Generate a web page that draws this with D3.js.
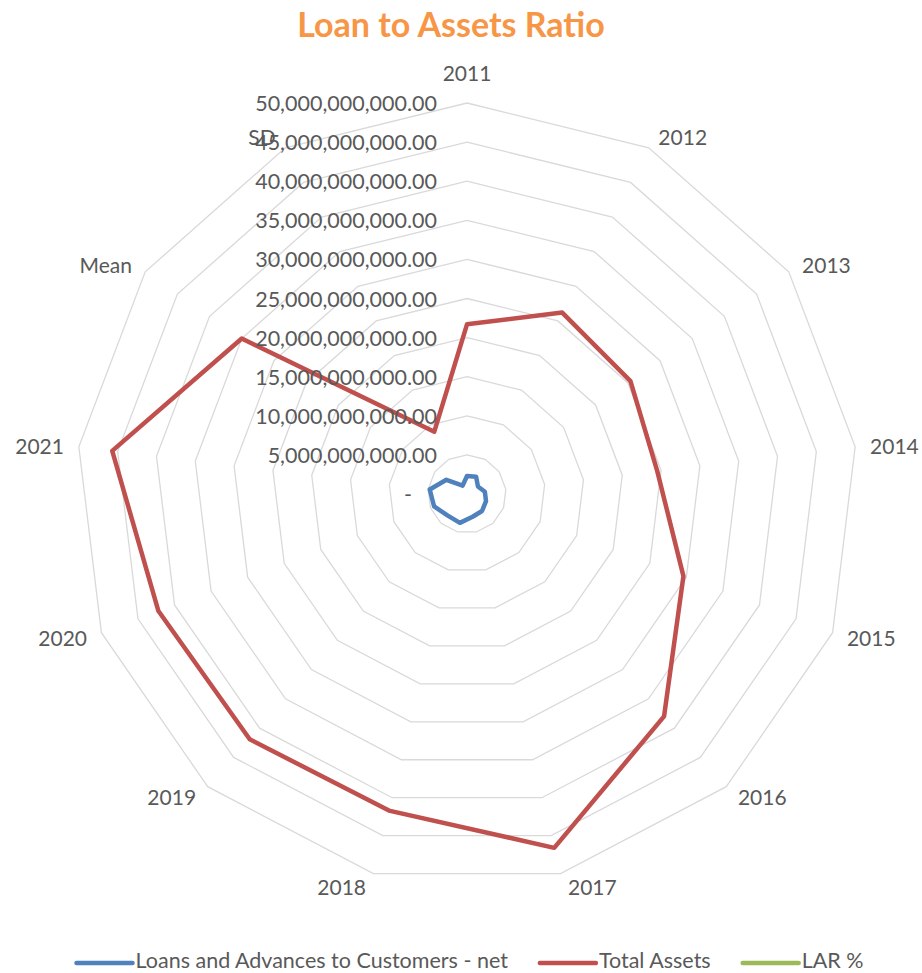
<!DOCTYPE html>
<html>
<head>
<meta charset="utf-8">
<script src="https://cdn.jsdelivr.net/npm/d3@7"></script>
<style>
  body { margin: 0; background: #fff; }
  svg { display: block; font-family: Lato, "Open Sans", sans-serif; }
</style>
</head>
<body>
<svg id="chart" width="922" height="973"></svg>
<script>
// chart values
const categories = ["2011", "2012", "2013", "2014", "2015", "2016", "2017", "2018", "2019", "2020", "2021", "Mean", "SD"];
const loansNet = [2.3e9, 2.5e9, 1.7e9, 2.3e9, 2.6e9, 2.9e9, 3.0e9, 3.8e9, 3.7e9, 4.5e9, 4.8e9, 3.2e9, 1.2e9];
const totalAssets = [21.7e9, 26.2e9, 25.4e9, 24.5e9, 29.6e9, 38.0e9, 46.6e9, 41.7e9, 41.9e9, 42.2e9, 45.7e9, 35.0e9, 9.0e9];
const larPct = [0.11, 0.10, 0.07, 0.09, 0.09, 0.08, 0.06, 0.09, 0.09, 0.11, 0.11, 0.09, 0.02];
const tickValues = [0, 5e9, 10e9, 15e9, 20e9, 25e9, 30e9, 35e9, 40e9, 45e9, 50e9];
const tickLabels = ["-\u2007\u2007", "5,000,000,000.00", "10,000,000,000.00", "15,000,000,000.00",
  "20,000,000,000.00", "25,000,000,000.00", "30,000,000,000.00", "35,000,000,000.00",
  "40,000,000,000.00", "45,000,000,000.00", "50,000,000,000.00"];

const seriesList = [
  { name: "Loans and Advances to Customers - net", values: loansNet, color: "#4F81BD" },
  { name: "Total Assets", values: totalAssets, color: "#C0504D" },
  { name: "LAR %", values: larPct, color: "#9BBB59" }
];

const svg = d3.select("#chart");
const cx = 467, cy = 494, R = 391;
const textColor = "#595959";

const rScale = d3.scaleLinear().domain([0, 50e9]).range([0, R]);
const angle = d3.scalePoint().domain(categories.concat(["_end"])).range([0, 2 * Math.PI]);

const g = svg.append("g").attr("transform", `translate(${cx},${cy})`);

// title
svg.append("text")
  .attr("x", 451).attr("y", 37)
  .attr("text-anchor", "middle")
  .attr("font-size", 34)
  .attr("font-weight", "bold")
  .attr("fill", "#F79646")
  .text("Loan to Assets Ratio");

// grid rings
const ringLine = d3.lineRadial()
  .angle(d => angle(d))
  .curve(d3.curveLinearClosed);

g.append("g").selectAll("path")
  .data(tickValues.slice(1))
  .enter().append("path")
  .attr("d", v => ringLine.radius(() => rScale(v))(categories))
  .attr("fill", "none")
  .attr("stroke", "#D9D9D9")
  .attr("stroke-width", 1.3);

// series
const seriesLine = d3.lineRadial()
  .angle((d, i) => angle(categories[i]))
  .radius(d => rScale(d))
  .curve(d3.curveLinearClosed);

g.append("g").selectAll("path")
  .data(seriesList)
  .enter().append("path")
  .attr("d", s => seriesLine(s.values))
  .attr("fill", "none")
  .attr("stroke", s => s.color)
  .attr("stroke-width", 4.5)
  .attr("stroke-linejoin", "round");

// radial axis labels
g.append("g").selectAll("text")
  .data(tickValues)
  .enter().append("text")
  .attr("x", -30)
  .attr("y", v => -rScale(v))
  .attr("text-anchor", "end")
  .attr("dominant-baseline", "central")
  .attr("font-size", 21.5)
  .attr("fill", textColor)
  .text((v, i) => tickLabels[i]);

// category labels
g.append("g").selectAll("text")
  .data(categories)
  .enter().append("text")
  .each(function (c) {
    const a = angle(c);
    const s = Math.sin(a), co = Math.cos(a);
    const vx = R * s, vy = -R * co;
    const t = d3.select(this);
    if (Math.abs(s) < 0.05) {
      t.attr("x", vx).attr("y", vy - 31).attr("text-anchor", "middle");
    } else {
      const gap = 5 + 10 * Math.abs(s);
      t.attr("x", vx + Math.sign(s) * gap)
        .attr("y", vy - 13 * co)
        .attr("text-anchor", s > 0 ? "start" : "end");
    }
  })
  .attr("dominant-baseline", "central")
  .attr("font-size", 21)
  .attr("fill", textColor)
  .text(c => c);

// legend
const legend = svg.append("g").attr("transform", "translate(0,963)");
const items = legend.selectAll("g")
  .data(seriesList)
  .enter().append("g");
items.append("line")
  .attr("x1", 0).attr("x2", 56)
  .attr("stroke", s => s.color)
  .attr("stroke-width", 4.5)
  .attr("stroke-linecap", "round");
items.append("text")
  .attr("x", 59)
  .attr("y", 5)
  .attr("font-size", 21.5)
  .attr("fill", textColor)
  .text(s => s.name);

let widths = [];
items.select("text").each(function () { widths.push(59 + this.getComputedTextLength()); });
const spacing = 32;
const total = d3.sum(widths) + spacing * (widths.length - 1);
let xPos = 470 - total / 2;
items.attr("transform", (d, i) => {
  const x = xPos;
  xPos += widths[i] + spacing;
  return `translate(${x},0)`;
});
</script>
</body>
</html>
